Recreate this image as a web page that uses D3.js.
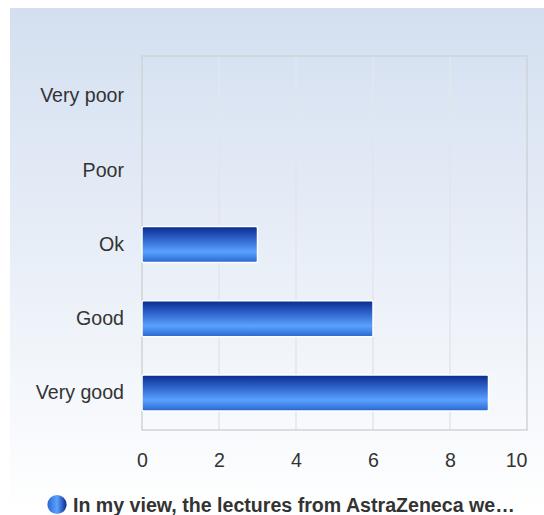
<!DOCTYPE html>
<html>
<head>
<meta charset="utf-8">
<script src="https://cdn.jsdelivr.net/npm/d3@7"></script>
<style>
  body { margin: 0; background: #fff; }
  svg { display: block; font-family: "Liberation Sans", Arial, sans-serif; }
</style>
</head>
<body>
<svg id="chart"></svg>
<script>
// Chart data
let categories = ['Very poor', 'Poor', 'Ok', 'Good', 'Very good'];
let values = [0, 0, 3, 6, 9];
let xTicks = [0, 2, 4, 6, 8, 10];
let seriesName = 'In my view, the lectures from AstraZeneca we\u2026';

let c = {
    svg: { width: 544, height: 515 },
    plot: { left: 142, right: 527, top: 56, bottom: 430, bandTop: 59 },
    font: 19.6
};

let svg = d3.select('#chart')
    .attr('width', c.svg.width)
    .attr('height', c.svg.height);

let defs = svg.append('defs');

// Background gradient
let bg = defs.append('linearGradient')
    .attr('id', 'bg').attr('x1', 0).attr('y1', 0).attr('x2', 0).attr('y2', 1);
bg.append('stop').attr('offset', '0%').attr('stop-color', '#d3dff0');
bg.append('stop').attr('offset', '100%').attr('stop-color', '#ffffff');

// Bar gradient
let bar = defs.append('linearGradient')
    .attr('id', 'bar').attr('x1', 0).attr('y1', 0).attr('x2', 0).attr('y2', 1);
bar.append('stop').attr('offset', '0%').attr('stop-color', '#0b2a8c');
bar.append('stop').attr('offset', '35%').attr('stop-color', '#2f64cc');
bar.append('stop').attr('offset', '70%').attr('stop-color', '#5aa2ff');
bar.append('stop').attr('offset', '100%').attr('stop-color', '#2a66cf');

// Legend marker gradient
let leg = defs.append('linearGradient')
    .attr('id', 'leg').attr('x1', 0).attr('y1', 0).attr('x2', 1).attr('y2', 0);
leg.append('stop').attr('offset', '0%').attr('stop-color', '#2a66cf');
leg.append('stop').attr('offset', '50%').attr('stop-color', '#5aa2ff');
leg.append('stop').attr('offset', '100%').attr('stop-color', '#0b2a8c');

svg.append('rect')
    .attr('x', 10).attr('y', 8)
    .attr('width', c.svg.width - 10).attr('height', c.svg.height - 8)
    .attr('fill', 'url(#bg)');

let x = d3.scaleLinear().domain([0, 10]).range([c.plot.left, c.plot.right]);
let y = d3.scaleBand().domain(categories)
    .range([c.plot.bandTop, c.plot.bottom])
    .paddingInner(0.515).paddingOuter(0.2575);
let yOuter = d3.scaleBand().domain(categories).range([c.plot.bandTop, c.plot.bottom]);

// Gridlines
svg.append('g')
    .selectAll('line')
    .data(xTicks.slice(1, -1))
    .join('line')
    .attr('x1', d => x(d)).attr('x2', d => x(d))
    .attr('y1', c.plot.top).attr('y2', c.plot.bottom)
    .attr('stroke', '#e2e6ec').attr('stroke-width', 1.5);

// Plot frame
svg.append('rect')
    .attr('x', c.plot.left).attr('y', c.plot.top)
    .attr('width', c.plot.right - c.plot.left)
    .attr('height', c.plot.bottom - c.plot.top)
    .attr('fill', 'none').attr('stroke', '#cfd3d8').attr('stroke-width', 1.5);

// Bars
svg.append('g')
    .selectAll('rect')
    .data(categories.map((cat, i) => ({ cat: cat, v: values[i] })).filter(d => d.v > 0))
    .join('rect')
    .attr('x', x(0))
    .attr('y', d => y(d.cat))
    .attr('width', d => x(d.v) - x(0))
    .attr('height', y.bandwidth())
    .attr('rx', 1.5)
    .attr('fill', 'url(#bar)')
    .attr('stroke', '#ffffff').attr('stroke-width', 1.5);

// Category labels
let yAxis = d3.axisLeft(yOuter).tickSize(0).tickPadding(18);
svg.append('g')
    .attr('transform', translate(c.plot.left, 0))
    .call(yAxis)
    .call(g => g.select('.domain').remove())
    .selectAll('text')
    .attr('font-size', c.font).attr('fill', '#333')
    .attr('font-family', '"Liberation Sans", Arial, sans-serif');

// X tick labels (last one kept inside the frame)
let xAxis = d3.axisBottom(x).tickValues(xTicks).tickSize(0).tickPadding(23);
svg.append('g')
    .attr('transform', translate(0, c.plot.bottom))
    .call(xAxis)
    .call(g => g.select('.domain').remove())
    .selectAll('text')
    .attr('font-size', c.font).attr('fill', '#333')
    .attr('font-family', '"Liberation Sans", Arial, sans-serif')
    .attr('text-anchor', d => d === xTicks[xTicks.length - 1] ? 'end' : 'middle');

// Legend
svg.append('circle')
    .attr('cx', 57).attr('cy', 504.5).attr('r', 9.6)
    .attr('fill', 'url(#leg)');
svg.append('text')
    .attr('x', 73).attr('y', 511.5)
    .attr('font-size', c.font).attr('font-weight', 'bold').attr('fill', '#333')
    .text(seriesName);

function translate(x, y) {
    return 'translate(' + x + ',' + y + ')';
}
</script>
</body>
</html>
